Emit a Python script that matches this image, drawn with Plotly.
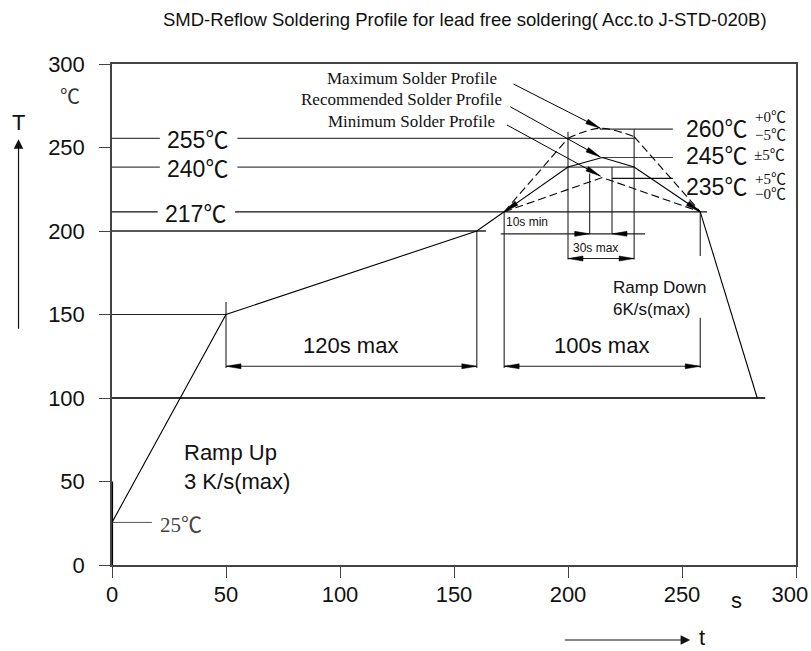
import math
import plotly.graph_objects as go

# ---------------- data ----------------
TITLE = "SMD-Reflow Soldering Profile for lead free soldering( Acc.to J-STD-020B)"
X_TICKS = [0, 50, 100, 150, 200, 250, 300]
# the last label sits slightly left of its tick in the reference (kept inside the page)
X_TICK_TEXT = ["0", "50", "100", "150", "200", "250", "300\u00a0\u00a0"]
Y_TICKS = [0, 50, 100, 150, 200, 250, 300]

# main profile: ramp up, preheat, up to liquidus
main_t = [0, 50, 160, 172]
main_T = [25.5, 150, 200, 211.5]
# ramp down
down_t = [258, 283]
down_T = [211.5, 100]

# maximum solder profile (dashed)
max_rise_t = [172, 200]
max_rise_T = [211.5, 255.5]
max_top_t = [200, 214, 229]
max_top_T = [255.5, 261.5, 256.5]
max_fall_t = [229, 258]
max_fall_T = [256.5, 211.5]

# recommended solder profile (solid)
rec_t = [172, 200, 215, 229, 258]
rec_T = [211.5, 238.3, 244, 238.3, 211.5]

# minimum solder profile (dashed)
min_t = [172, 215, 258]
min_T = [211.5, 232, 211.5]

# horizontal reference lines: level, start, end (None = gap for a label)
level_T = [255.5, 238.3, 211.5, 200, 150, 100, 25.5, 261, 244, 231.5]
level_x = [[0, 21, None, 55, 229], [0, 21, None, 55, 229], [0, 20, None, 54, 261],
           [0, 164], [0, 50], [0, 286.5], [0, 17.5], [214, 246], [215, 246], [219.3, 246]]
level_w = [1.3, 1.3, 1.2, 1.6, 1.2, 2.0, 1.0, 1.2, 1.2, 1.2]
level_c = ["#444", "#444", "#111", "#222", "#222", "#333", "#555", "#333", "#444", "#111"]

# vertical dimension lines: position, top, bottom
vert_t = [50, 160, 172, 258, 258, 200, 229, 209.5, 219.3]
vert_top = [157.5, 200, 211.5, 211.5, 148, 259.5, 261, 234.5, 238.3]
vert_bot = [118, 118, 118, 185, 118, 183, 183, 198.3, 198.3]

# dimension arrows: level, from, to
dim_labels = ["120s max", "100s max", "30s max"]
dim_y = [119, 119, 183.5]
dim_x0 = [50, 172, 200]
dim_x1 = [160, 258, 229]
dim_text_t = [104.5, 214.6, 212]
dim_text_T = [131.4, 131.4, 190]
dim_text_size = [22, 22, 12]

# 10 s window
ten_y = 198.3
ten_x0, ten_x1 = 170.5, 233.8
ten_in = [209.5, 219.3]

# profile name labels and their arrows
prof_names = ["Maximum Solder Profile", "Recommended Solder Profile", "Minimum Solder Profile"]
prof_label_t = [169.6, 171.8, 168.9]
prof_label_T = [291.4, 278.9, 265.4]
prof_arrow_t0 = [176.1, 174.7, 173.2]
prof_arrow_T0 = [288, 274.4, 263.5]
prof_arrow_t1 = [214.2, 214.2, 214.2]
prof_arrow_T1 = [261.5, 244.3, 232.9]

# ---------------- layout geometry ----------------
W, H = 811, 651
M_L, M_R, M_T, M_B = 112, 15, 64, 86
X_RANGE = [0, 300]
Y_RANGE = [0, 300]
PW = W - M_L - M_R
PH = H - M_T - M_B
DX = (X_RANGE[1] - X_RANGE[0]) / PW
DY = (Y_RANGE[1] - Y_RANGE[0]) / PH

SANS = "Liberation Sans, Arial, sans-serif"
SERIF = "Liberation Serif, Times New Roman, serif"
CJK = "Noto Sans CJK SC"
DEG = '<span style="font-family:Noto Sans CJK SC">℃</span>'


def px_(t):
    return (t - X_RANGE[0]) / (X_RANGE[1] - X_RANGE[0])


def py_(T):
    return (T - Y_RANGE[0]) / (Y_RANGE[1] - Y_RANGE[0])


def head_path(specs, L=15, wd=5):
    xs, ys = [], []
    for tx, ty, fx, fy in specs:
        vx, vy = (tx - fx) / DX, (ty - fy) / DY
        n = math.hypot(vx, vy)
        ux, uy = vx / n, vy / n
        bx, by = -ux * L, -uy * L
        qx, qy = -uy * wd / 2, ux * wd / 2
        xs += [tx, tx + (bx + qx) * DX, tx + (bx - qx) * DX, tx, None]
        ys += [ty, ty + (by + qy) * DY, ty + (by - qy) * DY, ty, None]
    return xs, ys


fig = go.Figure()


def line(x, y, color="black", width=1.0, dash="solid", shape="linear"):
    fig.add_trace(go.Scatter(x=x, y=y, mode="lines", hoverinfo="skip",
                             line=dict(color=color, width=width, dash=dash, shape=shape),
                             showlegend=False, connectgaps=False))


# reference levels
for T, xs, w, c in zip(level_T, level_x, level_w, level_c):
    line(xs, [None if v is None else T for v in xs], color=c, width=w)

# thick lower part of the T axis
line([0, 0], [0, 50], color="black", width=2.2)

# vertical dimension lines
for t, a, b in zip(vert_t, vert_top, vert_bot):
    line([t, t], [a, b], color="#222", width=1.1)

# profiles
line(main_t, main_T, width=1.1)
line(down_t, down_T, width=1.1)
DASH = "8px,4px"
line(max_rise_t, max_rise_T, width=1.1, dash=DASH)
line(max_top_t, max_top_T, width=1.1, dash=DASH, shape="spline")
line(max_fall_t, max_fall_T, width=1.1, dash=DASH)
line(rec_t, rec_T, width=1.1)
line(min_t, min_T, width=1.1, dash=DASH)

# dimension arrows
heads = []
for y, a, b in zip(dim_y, dim_x0, dim_x1):
    line([a, b], [y, y], color="#222", width=1.1)
    heads.append((a, y, b, y))
    heads.append((b, y, a, y))
line([ten_x0, ten_x1], [ten_y, ten_y], color="#222", width=1.1)
heads.append((ten_in[0], ten_y, ten_x0, ten_y))
heads.append((ten_in[1], ten_y, ten_x1, ten_y))

# profile label arrows
for a, b, c, d in zip(prof_arrow_t0, prof_arrow_T0, prof_arrow_t1, prof_arrow_T1):
    line([a, c], [b, d], width=1.0)
    heads.append((c, d, a, b))

# arrowheads at the liquidus crossings
heads.append((rec_t[0], rec_T[0], rec_t[1], rec_T[1]))
heads.append((rec_t[-1], rec_T[-1], rec_t[-2], rec_T[-2]))

hx, hy = head_path(heads)
fig.add_trace(go.Scatter(x=hx, y=hy, mode="lines", fill="toself", fillcolor="black",
                         line=dict(color="black", width=0.5), hoverinfo="skip",
                         showlegend=False))

ann = []


def text(t, T, s, size, family=SANS, color="#111", xanchor="center", yanchor="middle",
         align="center"):
    ann.append(dict(x=px_(t), y=py_(T), xref="paper", yref="paper", text=s,
                    showarrow=False, font=dict(family=family, size=size, color=color),
                    xanchor=xanchor, yanchor=yanchor, align=align))


# left level labels
text(37.6, 255.5, "255" + DEG, 23)
text(37.6, 238.3, "240" + DEG, 23)
text(36.6, 211.5, "217" + DEG, 23)
text(20, 25.2, "25" + DEG, 21, family=SERIF, color="#444", xanchor="left")

# right peak labels
text(250.7, 262.3, "260" + DEG, 23, xanchor="left")
text(281.3, 269.3, "+0" + DEG, 15, family=SERIF, xanchor="left")
text(281.3, 258.4, "−5" + DEG, 15, family=SERIF, xanchor="left")
text(250.7, 246.3, "245" + DEG, 23, xanchor="left")
text(280.5, 246.5, "±5" + DEG, 15, family=SERIF, xanchor="left")
text(250.7, 227.3, "235" + DEG, 23, xanchor="left")
text(281.3, 232.3, "+5" + DEG, 15, family=SERIF, xanchor="left")
text(281.3, 222.8, "−0" + DEG, 15, family=SERIF, xanchor="left")

# profile names
for s, x, y in zip(prof_names, prof_label_t, prof_label_T):
    text(x, y, s, 17, family=SERIF, xanchor="right")

# dimension texts
for s, x, y, sz in zip(dim_labels, dim_text_t, dim_text_T, dim_text_size):
    text(x, y, s, sz)
text(182, 205.4, "10s min", 12)

# ramp notes
text(30.7, 58.7, "Ramp Up<br>3 K/s(max)", 22, xanchor="left", align="left")
text(219, 159.5, "Ramp Down<br>6K/s(max)", 17, xanchor="left", align="left")

# axis decorations
text(-18.3, 281.4, "℃", 20, family=CJK, color="#333")
text(-41.1, 264.7, "T", 22)
text(274.1, -21.5, "s", 22)
text(258.8, -43.5, "t", 22)
ann.append(dict(x=(465 - M_L) / PW, y=1 + (M_T - 20) / PH, xref="paper",
                yref="paper", text=TITLE, showarrow=False, xanchor="center",
                yanchor="middle", font=dict(family=SANS, size=18.5, color="#111")))

# axis arrows (tail offsets in pixels)
ann.append(dict(x=px_(-41), y=py_(255), ax=0, ay=191, xref="paper", yref="paper",
                axref="pixel", ayref="pixel", text="", showarrow=True,
                arrowhead=2, arrowsize=1.6, arrowwidth=1.2, arrowcolor="#111", standoff=0))
ann.append(dict(x=px_(253.6), y=py_(-44.9), ax=-127, ay=0, xref="paper", yref="paper",
                axref="pixel", ayref="pixel", text="", showarrow=True,
                arrowhead=2, arrowsize=1.6, arrowwidth=1.2, arrowcolor="#111", standoff=0))

fig.update_layout(
    width=W, height=H,
    margin=dict(l=M_L, r=M_R, t=M_T, b=M_B, autoexpand=False),
    paper_bgcolor="white", plot_bgcolor="white",
    annotations=ann,
    font=dict(family=SANS, color="#111"),
)
fig.update_xaxes(range=X_RANGE, tickvals=X_TICKS, ticktext=X_TICK_TEXT, showgrid=False,
                 zeroline=False,
                 showline=True, linecolor="#444", linewidth=1.5, mirror=True,
                 ticks="outside", ticklen=11, tickwidth=1.3, tickcolor="#444",
                 tickfont=dict(family=SANS, size=22, color="#111"),
                 ticklabelstandoff=-2, automargin=False, ticklabeloverflow="allow")
fig.update_yaxes(range=Y_RANGE, tickvals=Y_TICKS, showgrid=False, zeroline=False,
                 showline=True, linecolor="#444", linewidth=1.5, mirror=True,
                 ticks="outside", ticklen=11, tickwidth=1.3, tickcolor="#444",
                 tickfont=dict(family=SANS, size=22, color="#111"),
                 ticklabelstandoff=10, automargin=False, ticklabeloverflow="allow")

fig.write_html("out.html",
               config={"displayModeBar": False},
               post_script="document.body.style.margin='0';"
                           "document.body.style.overflow='hidden';")
